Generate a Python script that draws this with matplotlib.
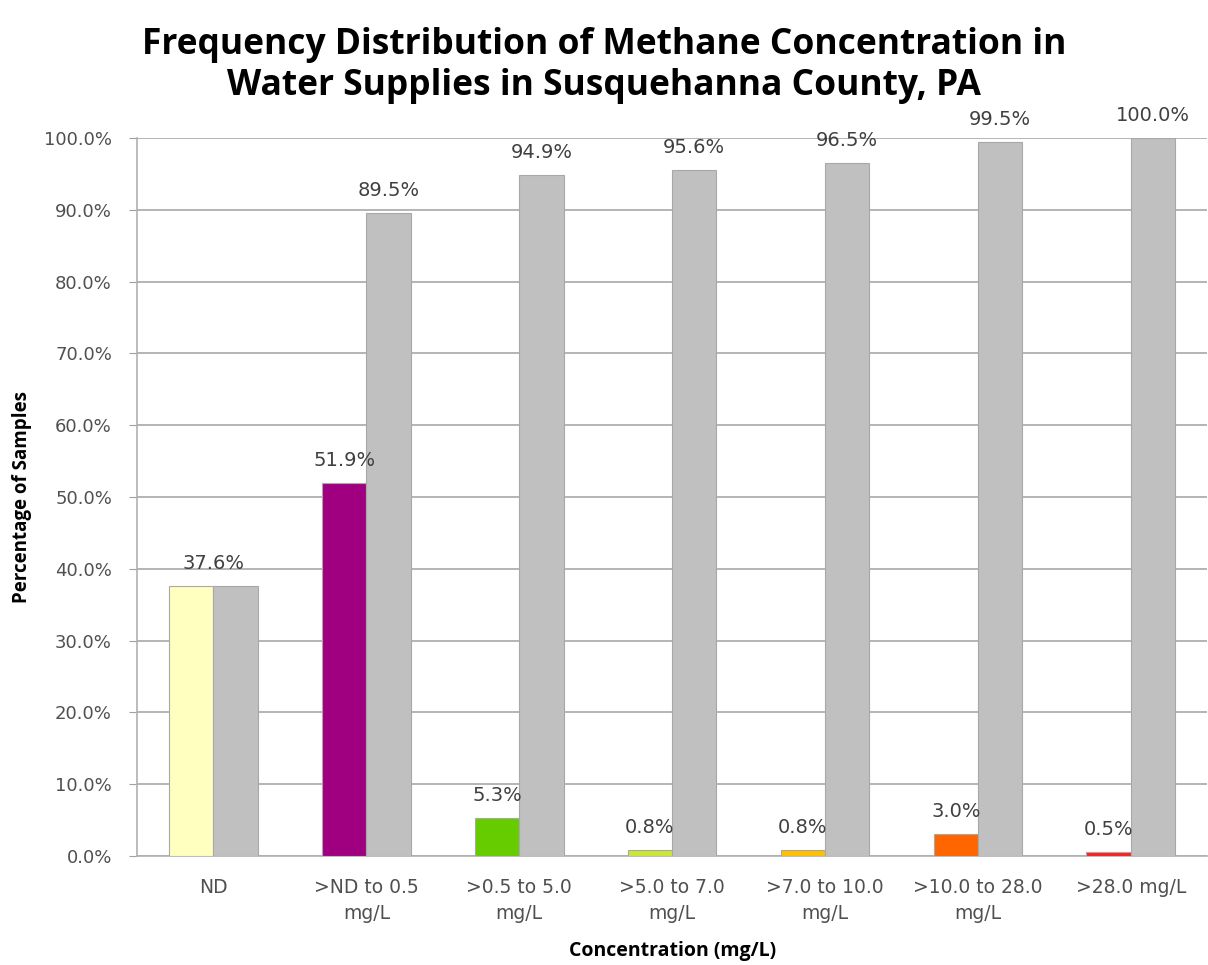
import matplotlib
matplotlib.use("Agg")
import matplotlib.pyplot as plt
import numpy as np

categories = ["ND", ">ND to 0.5\nmg/L", ">0.5 to 5.0\nmg/L", ">5.0 to 7.0\nmg/L",
              ">7.0 to 10.0\nmg/L", ">10.0 to 28.0\nmg/L", ">28.0 mg/L"]
frequency = [37.6, 51.9, 5.3, 0.8, 0.8, 3.0, 0.5]
cumulative = [37.6, 89.5, 94.9, 95.6, 96.5, 99.5, 100.0]
bar_colors = ["#FFFFC0", "#A0007F", "#66CC00", "#CCE633", "#FFC000", "#FF6600", "#FF2020"]
yticks = [0, 10, 20, 30, 40, 50, 60, 70, 80, 90, 100]

fig = plt.figure(figsize=(12.08, 9.65), dpi=100)
ax = fig.add_axes([0.1134, 0.113, 0.886, 0.744])

x = np.arange(len(categories))
w = 0.29
ax.bar(x - w/2, frequency, width=w, color=bar_colors, edgecolor="#A8A8A8", linewidth=0.8, zorder=3)
ax.bar(x + w/2, cumulative, width=w, color="#C0C0C0", edgecolor="#A8A8A8", linewidth=0.8, zorder=3)

lab_kw = dict(ha="center", va="bottom", fontsize=14, color="#404040", family="DejaVu Sans")
for i, v in enumerate(frequency):
    xp = x[i] if i == 0 else x[i] - w/2
    ax.text(xp, v + 1.8, f"{v:.1f}%", **lab_kw)
for i, v in enumerate(cumulative):
    if i == 0:
        continue
    ax.text(x[i] + w/2, v + 1.8, f"{v:.1f}%", clip_on=False, **lab_kw)

ax.set_xlim(-0.5, len(categories) - 0.5)
ax.set_ylim(0, 100)
ax.set_yticks(yticks)
ax.set_yticklabels([f"{t:.1f}%" for t in yticks])
ax.set_xticks(x)
ax.set_xticklabels(categories, linespacing=1.45)
ax.tick_params(axis="y", labelsize=13, labelcolor="#505050", color="#A0A0A0", length=6, direction="out", pad=12)
ax.tick_params(axis="x", labelsize=13.5, labelcolor="#505050", length=0, pad=16)
ax.grid(axis="y", color="#A8A8A8", linewidth=1.2, zorder=0)
ax.set_axisbelow(True)
for s in ["top", "right"]:
    ax.spines[s].set_visible(False)
ax.spines["left"].set_color("#B0B0B0")
ax.spines["bottom"].set_color("#B0B0B0")
ax.spines["left"].set_linewidth(1.2)
ax.spines["bottom"].set_linewidth(1.2)

ax.set_ylabel("Percentage of Samples", fontsize=13.5, fontweight="bold", family="Open Sans")
ax.yaxis.set_label_coords(-0.098, 0.5)
ax.set_xlabel("Concentration (mg/L)", fontsize=14, fontweight="bold", family="Open Sans")
ax.xaxis.set_label_coords(0.5, -0.118)

fig.text(0.5, 0.972, "Frequency Distribution of Methane Concentration in\nWater Supplies in Susquehanna County, PA",
         ha="center", va="top", fontsize=25.5, fontweight="bold", family="Open Sans", linespacing=1.2)

fig.savefig("out.png", dpi=100)
